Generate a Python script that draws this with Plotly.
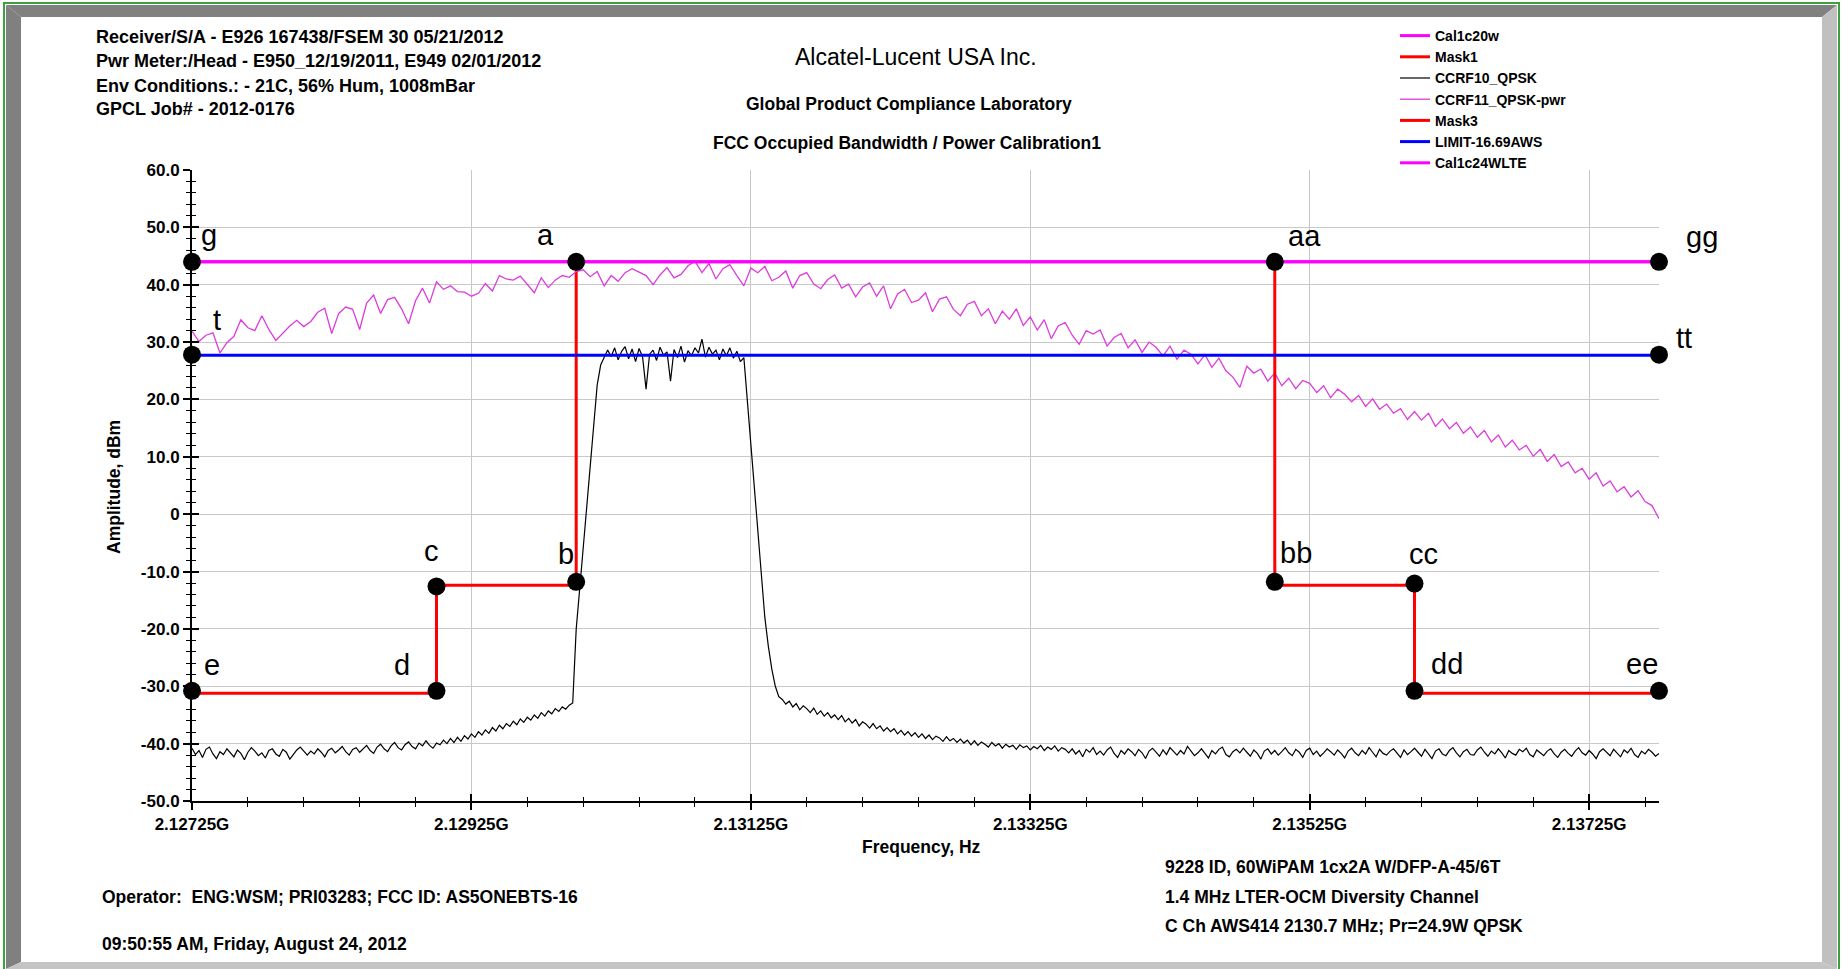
import numpy as np
import plotly.graph_objects as go

# ---------------------------------------------------------------- data
# CCRF10_QPSK sweep: 2127.25 MHz .. 2137.75 MHz, 0.025 MHz per point
CCRF10_START_MHZ = 2127.25
CCRF10_STEP_MHZ = 0.025
ccrf10_qpsk_dbm = [
    # 2127.250 .. 2129.000
    -40.8, -41.9, -41.2, -42.4, -41.0, -40.6, -41.8, -42.6, -41.4, -41.9,
    -40.9, -41.6, -42.3, -41.1, -41.7, -42.8, -41.5, -40.7, -41.3, -42.1,
    -41.6, -42.5, -41.2, -40.9, -41.8, -42.2, -41.0, -41.5, -42.7, -41.9,
    -41.1, -40.6, -41.4, -42.0, -41.3, -41.8, -40.9, -41.5, -42.3, -41.2,
    -40.8, -41.6, -41.1, -40.5, -41.4, -42.0, -41.0, -40.7, -41.5, -40.9,
    -40.3, -41.2, -41.7, -40.6, -40.1, -40.9, -41.4, -40.4, -39.8, -40.7,
    -41.1, -40.2, -39.7, -40.5, -40.9, -39.9, -40.4, -39.5, -40.3, -40.8,
    -39.9,
    # 2129.025 .. 2129.975
    -40.2, -39.4, -40.0, -39.1, -39.8, -38.9, -39.6, -38.6, -39.2, -38.3,
    -38.9, -37.9, -38.5, -37.6, -38.2, -37.2, -37.8, -36.8, -37.4, -36.5,
    -37.0, -36.1, -36.7, -35.7, -36.3, -35.4, -35.9, -35.0, -35.6, -34.6,
    -35.2, -34.3, -34.8, -33.9, -34.4, -33.6, -34.0, -33.3, -32.9,
    # 2130.000 .. 2130.175 (rising edge)
    -20.0, -13.0, -6.0, 1.0, 9.0, 16.0, 22.5, 26.0,
    # 2130.200 .. 2131.200 (occupied band)
    27.2, 28.6, 27.5, 29.0, 26.9, 28.4, 29.2, 27.1, 28.8, 26.6,
    28.9, 27.4, 21.8, 27.9, 28.6, 26.8, 29.1, 27.7, 28.3, 23.2,
    28.7, 27.3, 29.3, 26.5, 28.5, 27.6, 29.0, 28.1, 30.5, 27.4,
    29.1, 27.9, 28.6, 26.9, 28.8, 27.6, 29.0, 27.2, 28.4, 26.6,
    27.3,
    # 2131.225 .. 2131.450 (falling edge)
    20.0, 12.0, 4.0, -3.0, -10.0, -18.0, -23.0, -27.0, -30.0, -31.8,
    # 2131.475 .. 2133.500
    -32.3, -33.1, -32.6, -33.6, -33.0, -34.1, -33.4, -33.9, -34.6, -33.8,
    -34.9, -34.3, -35.2, -34.6, -35.5, -35.0, -35.8, -35.1, -36.2, -35.6,
    -36.4, -35.8, -36.9, -36.2, -36.6, -37.3, -36.5, -37.4, -36.9, -37.8,
    -37.2, -37.9, -37.4, -38.3, -37.7, -38.5, -37.9, -38.7, -38.1, -38.9,
    -38.3, -39.1, -38.5, -39.3, -38.7, -39.0, -39.6, -38.8, -39.5, -39.1,
    -39.8, -39.2, -39.9, -39.4, -40.2, -39.5, -40.3, -39.7, -40.1, -40.6,
    -39.8, -40.4, -40.0, -40.8, -40.1, -40.6, -40.3, -41.0, -40.2, -40.7,
    -40.4, -41.1, -40.5, -40.9, -40.3, -41.2, -40.6, -41.0, -40.4, -41.3,
    -40.7, -41.0,
    # 2133.525 .. 2137.750
    -41.6, -40.9, -41.8, -41.2, -42.3, -41.0, -41.5, -40.7, -41.9, -41.3,
    -42.0, -41.1, -40.6, -41.7, -42.4, -41.2, -41.8, -40.9, -41.4, -42.1,
    -41.0, -41.6, -42.6, -41.3, -40.8, -41.5, -42.2, -41.1, -41.9, -40.7,
    -41.4, -42.0, -41.2, -41.8, -40.5, -41.3, -42.1, -41.6, -40.9, -41.7,
    -42.5, -41.2, -41.8, -41.0, -40.6, -41.9, -42.3, -41.4, -41.0, -41.6,
    -40.8, -41.5, -42.2, -41.1, -41.7, -42.7, -41.3, -40.9, -41.8, -41.2,
    -42.0, -41.4, -40.7, -41.6, -42.1, -41.0, -41.5, -42.4, -41.2, -40.8,
    -41.9, -41.3, -42.2, -41.6, -40.9, -41.4, -42.0, -41.1, -41.7, -42.5,
    -41.3, -40.8, -41.6, -42.1, -41.2, -41.8, -40.7, -41.5, -42.3, -41.0,
    -41.7, -42.0, -41.3, -40.9, -41.6, -42.4, -41.1, -41.9, -41.4, -40.8,
    -41.5, -42.2, -41.0, -41.7, -42.6, -41.3, -40.9, -41.8, -42.1, -41.2,
    -40.7, -41.6, -42.3, -41.4, -41.0, -41.9, -42.0, -41.1, -40.6, -41.5,
    -42.2, -41.3, -41.8, -40.9, -41.6, -42.5, -41.2, -41.7, -42.0, -41.0,
    -41.4, -40.8, -41.9, -42.3, -41.1, -41.6, -42.1, -41.3, -40.9, -41.8,
    -42.4, -41.5, -41.0, -41.7, -42.2, -41.3, -40.7, -41.6, -42.0, -41.2,
    -41.8, -42.6, -41.4, -40.9, -41.5, -42.1, -41.0, -41.7, -42.3, -41.1,
    -41.6, -40.8, -41.9, -42.4, -41.3, -41.8, -41.0, -41.5, -42.2, -41.7,
]

# CCRF11_QPSK-pwr sweep: 2127.25 MHz .. 2137.75 MHz, 0.05 MHz per point
CCRF11_START_MHZ = 2127.25
CCRF11_STEP_MHZ = 0.05
ccrf11_qpsk_pwr_dbm = [
    31.9, 30.1, 31.2, 31.6, 28.1, 29.9, 31.0, 33.9, 32.5, 32.0,
    34.6, 32.2, 30.3, 31.5, 32.8, 33.8, 32.7, 33.6, 35.2, 35.9,
    31.5, 35.0, 36.1, 35.7, 32.2, 36.8, 38.2, 35.0, 37.4, 37.8,
    35.8, 33.2, 37.2, 39.4, 36.8, 40.5, 39.2, 39.8, 38.8, 38.7,
    38.0, 38.5, 40.2, 38.9, 41.6, 41.0, 40.8, 41.5, 40.0, 38.6,
    41.2, 39.5, 40.8, 41.6, 41.3, 42.3, 42.6, 41.4, 42.3, 39.8,
    41.6, 40.6, 42.1, 42.8, 42.2, 41.6, 40.0, 41.7, 43.0, 41.2,
    41.8,
    43.3, 44.1, 42.1, 43.7, 41.0, 42.8, 43.5, 41.6, 39.8, 42.9,
    42.1, 43.2, 40.7, 41.3, 42.4, 39.4, 41.6, 42.1, 40.1, 39.3,
    40.9, 41.7, 39.4, 40.1, 37.9, 39.6, 40.3, 38.0, 39.8, 35.8,
    38.4, 39.2, 36.9, 37.3, 38.6, 35.3, 37.5, 37.9, 35.7, 34.6,
    36.6, 37.1, 34.6, 35.8, 33.2, 35.4, 34.0, 35.8, 32.9, 34.4,
    32.1, 33.9, 30.6, 32.8, 33.4, 31.2, 29.6, 32.0, 31.4, 32.1,
    29.3, 30.8, 31.5, 29.0, 30.4, 28.2, 30.0, 29.1, 27.6, 29.3,
    27.0, 28.6, 27.9, 26.2, 27.8, 25.6, 27.2, 25.0, 23.9, 22.1,
    25.8, 24.6, 25.3, 23.2, 24.6, 22.4, 23.7, 21.9, 23.3, 22.8,
    21.2, 22.4, 20.3, 21.8, 20.9, 19.6, 20.7, 18.8, 20.1, 18.3,
    19.2, 17.6, 18.4, 16.5, 17.9, 16.4, 17.6, 15.3, 16.6, 14.9,
    16.0, 14.1, 15.2, 13.4, 14.6, 12.6, 13.8, 11.7, 12.9, 11.2,
    12.0, 10.1, 11.3, 9.2, 10.4, 8.3, 9.1, 7.2, 8.0, 6.1,
    7.2, 4.9, 5.8, 3.9, 4.8, 3.0, 4.1, 2.2, 1.5, -0.8,
]

cal_freq_mhz = [2127.25, 2137.75]
cal1c20w_dbm = [44.0, 44.0]
cal1c24wlte_dbm = [44.0, 44.0]

limit_freq_mhz = [2127.25, 2137.75]
limit_dbm = [27.7, 27.7]

mask1_freq_mhz = [2127.25, 2129.00, 2129.00, 2130.00, 2130.00]
mask1_dbm = [-31.2, -31.2, -12.4, -12.4, 44.0]
mask3_freq_mhz = [2135.00, 2135.00, 2136.00, 2136.00, 2137.75]
mask3_dbm = [44.0, -12.4, -12.4, -31.2, -31.2]

point_labels = ["g", "a", "aa", "gg", "t", "tt", "c", "b", "bb", "cc", "e", "d", "dd", "ee"]
point_freq_mhz = [2127.25, 2130.00, 2135.00, 2137.75, 2127.25, 2137.75, 2129.00, 2130.00,
                  2135.00, 2136.00, 2127.25, 2129.00, 2136.00, 2137.75]
point_dbm = [44.0, 44.0, 44.0, 44.0, 27.8, 27.8, -12.6, -11.8,
             -11.8, -12.1, -30.8, -30.8, -30.8, -30.8]

x_tick_mhz = [2127.25, 2129.25, 2131.25, 2133.25, 2135.25, 2137.25]
x_tick_labels = ["2.12725G", "2.12925G", "2.13125G", "2.13325G", "2.13525G", "2.13725G"]
y_tick_vals = [60, 50, 40, 30, 20, 10, 0, -10, -20, -30, -40, -50]
y_tick_labels = ["60.0", "50.0", "40.0", "30.0", "20.0", "10.0", "0",
                 "-10.0", "-20.0", "-30.0", "-40.0", "-50.0"]
x_range_mhz = [2127.25, 2137.75]
y_range = [-50, 60]

header_lines = [
    "Receiver/S/A - E926 167438/FSEM 30 05/21/2012",
    "Pwr Meter:/Head - E950_12/19/2011, E949 02/01/2012",
    "Env Conditions.: - 21C, 56% Hum, 1008mBar",
    "GPCL Job# - 2012-0176",
]
title_lines = [
    "Alcatel-Lucent USA Inc.",
    "Global Product Compliance Laboratory",
    "FCC Occupied Bandwidth / Power Calibration1",
]
footer_left = [
    "Operator:  ENG:WSM; PRI03283; FCC ID: AS5ONEBTS-16",
    "09:50:55 AM, Friday, August 24, 2012",
]
footer_right = [
    "9228 ID, 60WiPAM 1cx2A W/DFP-A-45/6T",
    "1.4 MHz LTER-OCM Diversity Channel",
    "C Ch AWS414 2130.7 MHz; Pr=24.9W QPSK",
]

# ---------------------------------------------------------------- geometry / style
W, H = 1847, 969
PL, PR, PT, PB = 192, 1659, 170, 801
FONT = "Liberation Sans, Arial, sans-serif"

def px_x(x):
    return (x - PL) / (PR - PL)

def px_y(y):
    return (PB - y) / (PB - PT)

HZ = 1e6
ccrf10_hz = (CCRF10_START_MHZ + CCRF10_STEP_MHZ * np.arange(len(ccrf10_qpsk_dbm))) * HZ
ccrf11_hz = (CCRF11_START_MHZ + CCRF11_STEP_MHZ * np.arange(len(ccrf11_qpsk_pwr_dbm))) * HZ

def hz(lst):
    return [v * HZ for v in lst]

fig = go.Figure()

fig.add_trace(go.Scatter(x=hz(cal_freq_mhz), y=cal1c20w_dbm, mode="lines", name="Cal1c20w",
                         line=dict(color="#ff00ff", width=3)))
fig.add_trace(go.Scatter(x=hz(mask1_freq_mhz), y=mask1_dbm, mode="lines", name="Mask1",
                         line=dict(color="#ff0000", width=3)))
fig.add_trace(go.Scatter(x=ccrf10_hz, y=ccrf10_qpsk_dbm, mode="lines", name="CCRF10_QPSK",
                         line=dict(color="#000000", width=1.2)))
fig.add_trace(go.Scatter(x=ccrf11_hz, y=ccrf11_qpsk_pwr_dbm, mode="lines", name="CCRF11_QPSK-pwr",
                         line=dict(color="#dc3cdc", width=1.3)))
fig.add_trace(go.Scatter(x=hz(mask3_freq_mhz), y=mask3_dbm, mode="lines", name="Mask3",
                         line=dict(color="#ff0000", width=3)))
fig.add_trace(go.Scatter(x=hz(limit_freq_mhz), y=limit_dbm, mode="lines", name="LIMIT-16.69AWS",
                         line=dict(color="#0000ff", width=3)))
fig.add_trace(go.Scatter(x=hz(cal_freq_mhz), y=cal1c24wlte_dbm, mode="lines", name="Cal1c24WLTE",
                         line=dict(color="#ff00ff", width=3)))
fig.add_trace(go.Scatter(x=hz(point_freq_mhz), y=point_dbm, mode="markers", showlegend=False,
                         cliponaxis=False, marker=dict(color="black", size=18), hoverinfo="skip"))
# carrier for the overlaid (inside-tick) axes
fig.add_trace(go.Scatter(x=[None], y=[None], xaxis="x2", yaxis="y2", showlegend=False,
                         hoverinfo="skip"))

LABEL_SHIFT = {"g": (17, 27), "a": (-31, 27), "aa": (30, 26), "gg": (43, 25),
               "t": (25, 35), "tt": (25, 17), "c": (-5, 35), "b": (-10, 28),
               "bb": (21, 29), "cc": (9, 30), "e": (20, 26), "d": (-35, 26),
               "dd": (32, 27), "ee": (-17, 27)}

annotations = []
for name, fx, fy in zip(point_labels, point_freq_mhz, point_dbm):
    dx, dy = LABEL_SHIFT[name]
    annotations.append(dict(x=fx * HZ, y=fy, xref="x", yref="y", text=name, showarrow=False,
                            xshift=dx, yshift=dy, xanchor="center", yanchor="middle",
                            font=dict(family=FONT, size=29, color="black")))

def add_text(x, y, text, size, bold=True, anchor="left", angle=0):
    annotations.append(dict(x=px_x(x), y=px_y(y), xref="paper", yref="paper", text=text,
                            showarrow=False, xanchor=anchor, yanchor="middle", textangle=angle,
                            font=dict(family=FONT, size=size, color="black",
                                      weight="bold" if bold else "normal")))

for txt, yy in zip(header_lines, [37, 61, 86, 109]):
    add_text(94, yy, txt, 18)
add_text(916, 57, title_lines[0], 23, bold=False, anchor="center")
add_text(909, 104, title_lines[1], 17.5, anchor="center")
add_text(907, 143, title_lines[2], 17.5, anchor="center")
add_text(921, 847, "Frequency, Hz", 17.5, anchor="center")
add_text(114, 487, "Amplitude, dBm", 17.5, anchor="center", angle=-90)
add_text(100, 897, footer_left[0], 17.5)
add_text(100, 944, footer_left[1], 17.5)
for txt, yy in zip(footer_right, [867, 897, 926]):
    add_text(1163, yy, txt, 17.5)

def path_px(points):
    return "M " + " L ".join(f"{px_x(x):.5f},{px_y(y):.5f}" for x, y in points) + " Z"

shapes = [
    dict(type="path", xref="paper", yref="paper", layer="below", line=dict(width=0),
         fillcolor="#808080", path=path_px([(6, 5), (1837, 5), (1822, 17), (21, 17)])),
    dict(type="path", xref="paper", yref="paper", layer="below", line=dict(width=0),
         fillcolor="#808080", path=path_px([(6, 5), (21, 17), (21, 962), (6, 969)])),
    dict(type="path", xref="paper", yref="paper", layer="below", line=dict(width=0),
         fillcolor="#c0c0c0", path=path_px([(1837, 5), (1837, 969), (1822, 962), (1822, 17)])),
    dict(type="path", xref="paper", yref="paper", layer="below", line=dict(width=0),
         fillcolor="#c4c4c4", path=path_px([(6, 969), (1837, 969), (1822, 962), (21, 962)])),
    dict(type="rect", xref="paper", yref="paper", layer="below",
         x0=px_x(4), x1=px_x(1839), y0=px_y(3), y1=px_y(972),
         line=dict(color="#3f9f3f", width=2), fillcolor="rgba(0,0,0,0)"),
    dict(type="rect", xref="paper", yref="paper", layer="above",
         x0=px_x(1383), x1=px_x(1583), y0=px_y(18), y1=px_y(171.5),
         line=dict(width=0), fillcolor="white"),
]

x_range_hz = [v * HZ for v in x_range_mhz]
x_ticks_hz = [v * HZ for v in x_tick_mhz]
tickfont = dict(family=FONT, size=17, color="black", weight="bold")

fig.update_layout(
    width=W, height=H, autosize=False,
    margin=dict(l=PL, r=W - PR, t=PT, b=H - PB, pad=0),
    paper_bgcolor="white", plot_bgcolor="white",
    showlegend=True,
    legend=dict(x=px_x(1395), y=px_y(20), xanchor="left", yanchor="top",
                bgcolor="rgba(0,0,0,0)", borderwidth=0, tracegroupgap=0, itemwidth=30,
                font=dict(family=FONT, size=14, color="black", weight="bold")),
    xaxis=dict(range=x_range_hz, tickmode="array", tickvals=x_ticks_hz, ticktext=x_tick_labels,
               ticks="outside", ticklen=7, tickwidth=1.5, tickcolor="black",
               showline=True, linecolor="black", linewidth=2,
               showgrid=True, gridcolor="#c8c8c8", gridwidth=1, zeroline=False,
               tickfont=tickfont,
               minor=dict(ticks="outside", ticklen=4, tickwidth=1.2, tickcolor="black",
                          tick0=x_range_hz[0], dtick=0.4 * HZ, showgrid=False)),
    yaxis=dict(range=y_range, tickmode="array", tickvals=y_tick_vals, ticktext=y_tick_labels,
               ticks="outside", ticklen=7, tickwidth=1.5, tickcolor="black",
               showline=True, linecolor="black", linewidth=2,
               showgrid=True, gridcolor="#c8c8c8", gridwidth=1, zeroline=False,
               tickfont=tickfont,
               minor=dict(ticks="outside", ticklen=4, tickwidth=1.2, tickcolor="black",
                          tick0=-50, dtick=2, showgrid=False)),
    xaxis2=dict(overlaying="x", anchor="y", side="bottom", range=x_range_hz,
                tickmode="array", tickvals=x_ticks_hz, ticks="inside", ticklen=7, tickwidth=1.5,
                tickcolor="black", showticklabels=False, showgrid=False, showline=False,
                zeroline=False,
                minor=dict(ticks="inside", ticklen=4, tickwidth=1.2, tickcolor="black",
                           tick0=x_range_hz[0], dtick=0.4 * HZ, showgrid=False)),
    yaxis2=dict(overlaying="y", anchor="x", side="left", range=y_range,
                tickmode="array", tickvals=y_tick_vals, ticks="inside", ticklen=7, tickwidth=1.5,
                tickcolor="black", showticklabels=False, showgrid=False, showline=False,
                zeroline=False,
                minor=dict(ticks="inside", ticklen=4, tickwidth=1.2, tickcolor="black",
                           tick0=-50, dtick=2, showgrid=False)),
    annotations=annotations,
    shapes=shapes,
    hovermode=False,
)

fig.write_html("out.html")
